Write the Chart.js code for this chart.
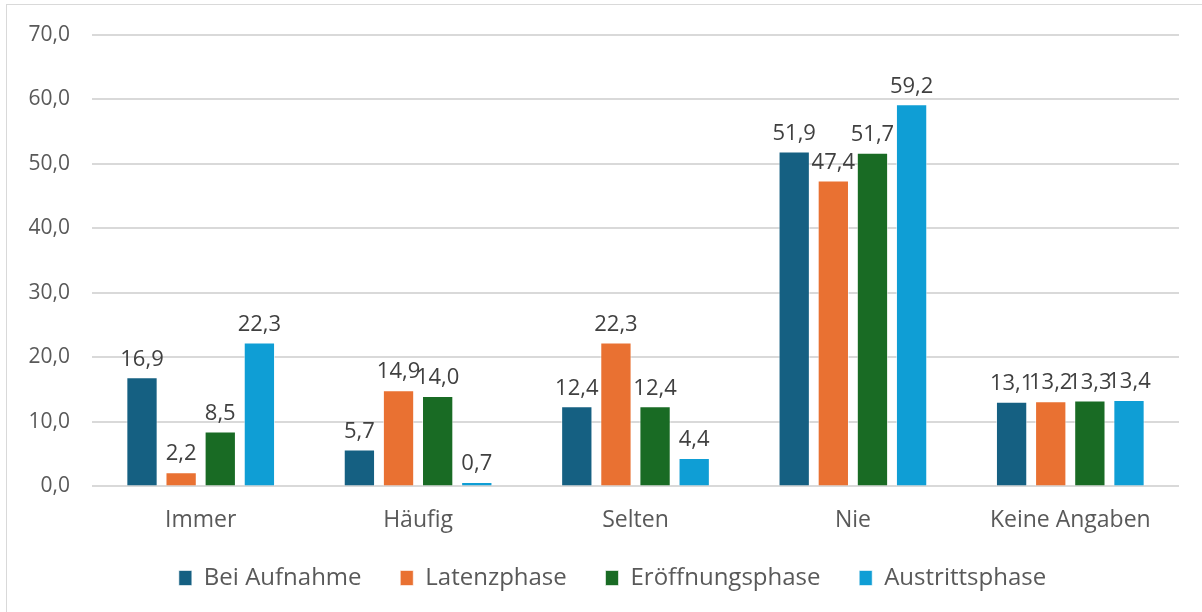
<!DOCTYPE html>
<html>
<head>
<meta charset="utf-8">
<script src="https://cdn.jsdelivr.net/npm/chart.js@4"></script>
<style>
  html,body{margin:0;padding:0;background:#fff;}
  #wrap{position:relative;width:1202px;height:612px;overflow:hidden;}
  #frame{position:absolute;left:6px;top:4px;width:1300px;height:700px;border:1px solid #d9d9d9;box-sizing:border-box;pointer-events:none;}
  canvas{position:absolute;left:0;top:0;}
</style>
</head>
<body>
<div id="wrap">
  <canvas id="myChart" width="1202" height="612"></canvas>
  <div id="frame"></div>
</div>
<script>
const categories=["Immer","Häufig","Selten","Nie","Keine Angaben"];
const beiAufnahme=[16.9,5.7,12.4,51.9,13.1];
const latenzphase=[2.2,14.9,22.3,47.4,13.2];
const eroeffnungsphase=[8.5,14.0,12.4,51.7,13.3];
const austrittsphase=[22.3,0.7,4.4,59.2,13.4];
const seriesNames=["Bei Aufnahme","Latenzphase","Eröffnungsphase","Austrittsphase"];
const seriesColors=["#156082","#E97132","#196B24","#0F9ED5"];

const fontFam="'Open Sans', 'Noto Sans', sans-serif";
const fmt=v=>v.toFixed(1).replace(".",",");

// simple value labels above the bars
const valueLabels={
  id:"valueLabels",
  afterDatasetsDraw(chart){
    const ctx=chart.ctx;
    ctx.save();
    ctx.font="22px "+fontFam;
    ctx.fillStyle="#404040";
    ctx.textAlign="center";
    ctx.textBaseline="bottom";
    chart.data.datasets.forEach((ds,i)=>{
      chart.getDatasetMeta(i).data.forEach((bar,j)=>{
        ctx.fillText(fmt(ds.data[j]),bar.x,bar.y-7);
      });
    });
    ctx.restore();
  }
};

// legend sits a bit right of the canvas centre in the original
const shiftLegend={
  id:"shiftLegend",
  afterLayout(chart){
    chart.legend.left+=23;
    chart.legend.right+=23;
  }
};

const allData=[beiAufnahme,latenzphase,eroeffnungsphase,austrittsphase];
new Chart(document.getElementById("myChart"),{
  type:"bar",
  data:{
    labels:categories,
    datasets:allData.map((d,i)=>({
      label:seriesNames[i],
      data:d,
      backgroundColor:seriesColors[i],
      borderColor:"rgba(255,255,255,0.6)",
      borderWidth:1,
      categoryPercentage:0.72,
      barPercentage:0.8
    }))
  },
  options:{
    responsive:false,
    animation:false,
    layout:{padding:{left:0,right:23,top:20,bottom:12}},
    plugins:{
      legend:{
        position:"bottom",
        labels:{
          boxWidth:13,
          boxHeight:15,
          padding:20,
          color:"#595959",
          font:{size:24,family:fontFam},
          generateLabels(chart){
            // extra trailing space widens the gap between entries
            const items=Chart.defaults.plugins.legend.labels.generateLabels(chart);
            items.forEach((it,i)=>{ if(i<items.length-1) it.text=it.text+"   "; });
            return items;
          }
        }
      },
      tooltip:{enabled:false}
    },
    scales:{
      x:{
        grid:{display:false},
        border:{display:false},
        ticks:{color:"#595959",font:{size:23,family:fontFam},padding:12}
      },
      y:{
        min:0,max:70,
        afterFit(scale){scale.width=92;},
        grid:{color:"#d9d9d9",lineWidth:2,drawTicks:false},
        border:{display:false},
        ticks:{stepSize:10,color:"#595959",font:{size:21,family:fontFam},padding:22,callback:v=>fmt(v)}
      }
    }
  },
  plugins:[valueLabels,shiftLegend]
});
</script>
</body>
</html>
